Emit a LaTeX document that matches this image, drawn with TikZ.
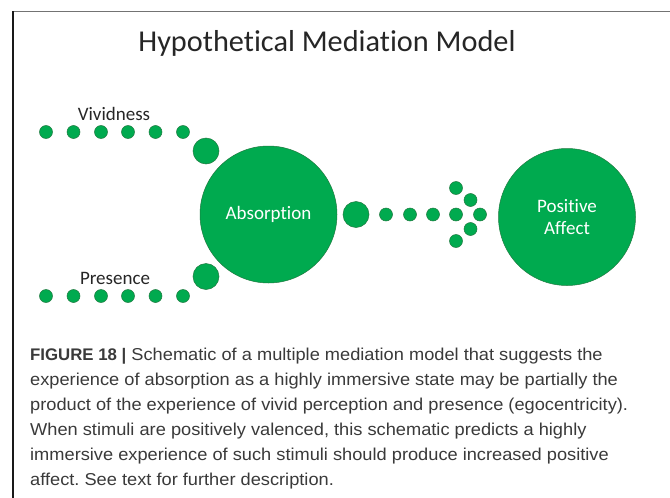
\documentclass[tikz,border=0pt]{standalone}
\usepackage{fontspec}
\setmainfont{Carlito}[Ligatures=CommonOff]
\newfontfamily\capfont{Liberation Sans}[FakeStretch=1.06]
\newfontfamily\capbold{Liberation Sans Bold}
\definecolor{dgreen}{HTML}{00AA4F}
\definecolor{dedge}{HTML}{1F7A40}
\definecolor{captext}{HTML}{3A3A3A}
\frenchspacing
\begin{document}
\begin{tikzpicture}[x=1pt,y=-1pt,
  dot/.style={circle, fill=dgreen, draw=dedge, line width=0.5pt, inner sep=0pt, minimum size=13pt},
  bigdot/.style={circle, fill=dgreen, draw=dedge, line width=0.5pt, inner sep=0pt, minimum size=26pt},
  hub/.style={circle, fill=dgreen, draw=dedge, line width=0.5pt, inner sep=0pt, minimum size=137pt, text=white, font=\fontsize{19}{21.5}\selectfont, align=center},
  lbl/.style={font=\fontsize{19}{22}\selectfont, text=black!85},
  capline/.style={anchor=base west, inner sep=0pt, text=captext, font=\capfont\fontsize{17.2}{20}\selectfont}]
\useasboundingbox (0,0) rectangle (670,498);
\fill[white] (0,0) rectangle (670,498);
\draw[line width=1pt, black!55] (13,11) -- (670,11);
\draw[line width=1.2pt, black!90] (13,11) -- (13,498);
\node[font=\fontsize{30.3}{34}\selectfont, text=black!85] (title) at (327,43.5) {Hypothetical Mediation Model};
% Vividness row
\node[lbl] (viv) at (114,114) {Vividness};
\foreach \i/\x in {1/46,2/73.5,3/101,4/128,5/155.5,6/183} \node[dot] (v\i) at (\x,132) {};
\node[bigdot] (vb) at (206,151) {};
% Presence row
\node[lbl] (pres) at (115,278) {Presence};
\foreach \i/\x in {1/46,2/73.5,3/101,4/128,5/155.5,6/183} \node[dot] (p\i) at (\x,296) {};
\node[bigdot] (pb) at (206,276.5) {};
% Hubs
\node[hub] (abs) at (268.5,214.5) {Absorption};
\node[hub] (aff) at (567,217) {Positive\\Affect};
% Middle path
\node[bigdot] (mb) at (356,214.5) {};
\foreach \i/\x in {1/386,2/410,3/433} \node[dot] (m\i) at (\x,214.5) {};
\node[dot] (a1) at (456,188) {};
\node[dot] (a2) at (470.5,200) {};
\node[dot] (a3) at (456,214.5) {};
\node[dot] (a4) at (480,214.5) {};
\node[dot] (a5) at (470.5,229) {};
\node[dot] (a6) at (456,241) {};
% Caption
\node[capline] (cap1) at (30,360) {{\capbold\fontsize{16.8}{20}\selectfont FIGURE 18 |} Schematic of a multiple mediation model that suggests the};
\node[capline] (cap2) at (30,385) {experience of absorption as a highly immersive state may be partially the};
\node[capline] (cap3) at (30,410) {product of the experience of vivid perception and presence (egocentricity).};
\node[capline] (cap4) at (30,435) {When stimuli are positively valenced, this schematic predicts a highly};
\node[capline] (cap5) at (30,460) {immersive experience of such stimuli should produce increased positive};
\node[capline] (cap6) at (30,485) {affect. See text for further description.};
\end{tikzpicture}
\end{document}
